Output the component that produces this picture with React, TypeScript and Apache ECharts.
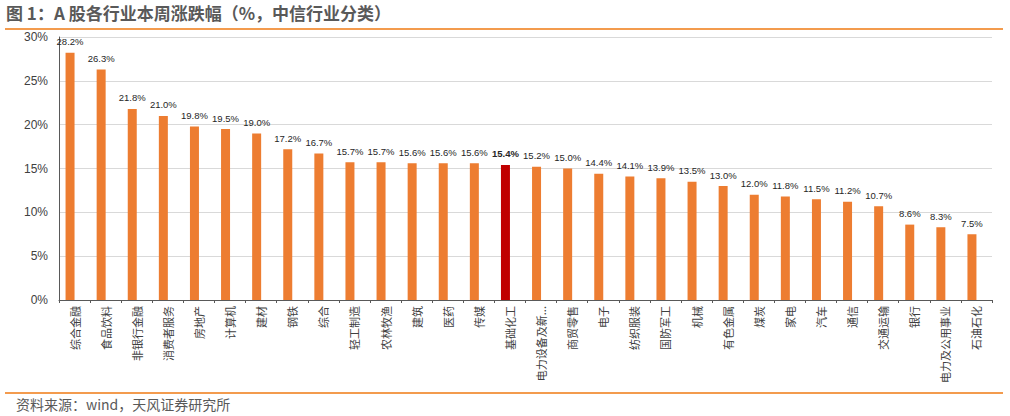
import React, { useEffect, useRef } from "react";
import * as echarts from "echarts";

const categories = [
  "综合金融", "食品饮料", "非银行金融", "消费者服务", "房地产", "计算机", "建材", "钢铁", "综合", "轻工制造",
  "农林牧渔", "建筑", "医药", "传媒", "基础化工", "电力设备及新...", "商贸零售", "电子", "纺织服装", "国防军工",
  "机械", "有色金属", "煤炭", "家电", "汽车", "通信", "交通运输", "银行", "电力及公用事业", "石油石化",
];
const values = [
  28.2, 26.3, 21.8, 21.0, 19.8, 19.5, 19.0, 17.2, 16.7, 15.7,
  15.7, 15.6, 15.6, 15.6, 15.4, 15.2, 15.0, 14.4, 14.1, 13.9,
  13.5, 13.0, 12.0, 11.8, 11.5, 11.2, 10.7, 8.6, 8.3, 7.5,
];
const highlighted = "基础化工";
const yTicks = [0, 5, 10, 15, 20, 25, 30];
const titleText = "图 1：A 股各行业本周涨跌幅（%，中信行业分类）";
const sourceText = "资料来源：wind，天风证券研究所";

const FONT = "'Noto Sans CJK SC', 'Noto Sans', sans-serif";
const NUM_FONT = "'Liberation Sans', sans-serif";

export default function App() {
  const ref = useRef<HTMLDivElement>(null);
  useEffect(() => {
    if (!ref.current) return;
    const chart = echarts.init(ref.current, null, { renderer: "svg" });
    const data = values.map((v, i) => {
      const hi = categories[i] === highlighted;
      return {
        value: v,
        itemStyle: { color: hi ? "#C00000" : "#ED7D31" },
        label: hi ? { fontWeight: "bold" } : undefined,
      };
    });
    chart.setOption({
      animation: false,
      textStyle: { fontFamily: FONT },
      grid: { left: 59, right: 18, top: 37, bottom: 116, containLabel: false },
      xAxis: {
        type: "category",
        data: categories,
        axisLine: { show: true, lineStyle: { color: "#595959", width: 1 } },
        axisTick: { show: true, alignWithLabel: false, length: 3, lineStyle: { color: "#595959" } },
        axisLabel: {
          rotate: 90,
          interval: 0,
          fontSize: 11,
          color: "#404040",
          margin: 6,
          fontFamily: FONT,
        },
      },
      yAxis: {
        type: "value",
        min: yTicks[0],
        max: yTicks[yTicks.length - 1],
        interval: 5,
        axisLine: { show: true, lineStyle: { color: "#595959", width: 1 } },
        axisTick: { show: false },
        splitLine: { show: true, lineStyle: { color: "#D9D9D9", width: 1 } },
        axisLabel: {
          formatter: (v: number) => `${v}%`,
          fontSize: 12,
          color: "#404040",
          margin: 11,
          fontFamily: NUM_FONT,
        },
      },
      series: [
        {
          type: "bar",
          data,
          barWidth: 9,
          barGap: "0%",
          label: {
            show: true,
            position: "top",
            distance: 6,
            formatter: (p: any) => `${Number(p.value).toFixed(1)}%`,
            fontSize: 9.5,
            color: "#262626",
            fontFamily: NUM_FONT,
          },
        },
        {
          type: "bar",
          data: values.map(() => null),
          barWidth: 9,
          barGap: "0%",
        },
      ],
      graphic: [
        {
          type: "text",
          left: 6,
          top: 4,
          style: {
            text: titleText,
            font: `bold 17px ${FONT}`,
            fill: "#595959",
          },
        },
        {
          type: "line",
          shape: { x1: 5, y1: 29, x2: 1003, y2: 29 },
          style: { stroke: "#F39B4E", lineWidth: 2 },
        },
        {
          type: "line",
          shape: { x1: 5, y1: 393, x2: 1003, y2: 393 },
          style: { stroke: "#F39B4E", lineWidth: 2 },
        },
        {
          type: "text",
          left: 16,
          top: 397,
          style: {
            text: sourceText,
            font: `14px ${FONT}`,
            fill: "#595959",
          },
        },
      ],
    });
    return () => chart.dispose();
  }, []);
  return (
    <div
      ref={ref}
      style={{ position: "fixed", left: 0, top: 0, width: 1010, height: 416, background: "#fff" }}
    />
  );
}
